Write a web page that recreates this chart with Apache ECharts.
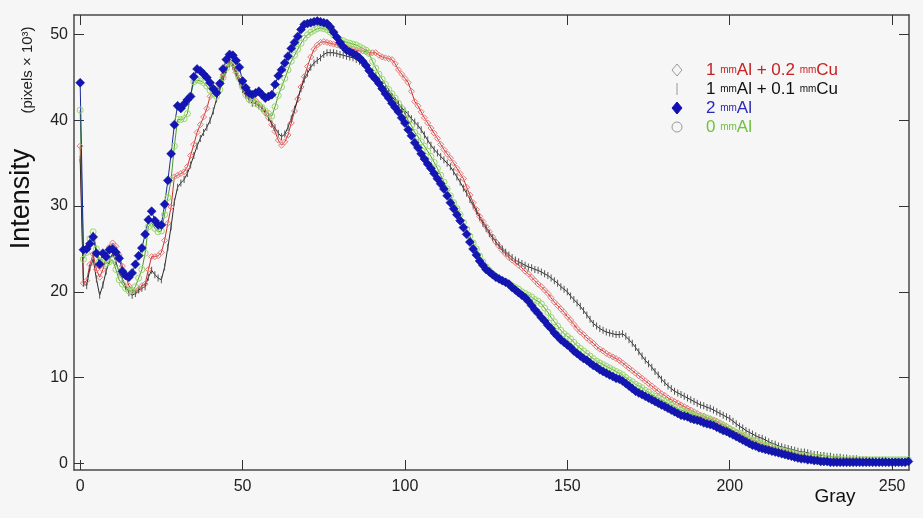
<!DOCTYPE html>
<html>
<head>
<meta charset="utf-8">
<script src="https://cdn.jsdelivr.net/npm/echarts@6/dist/echarts.min.js"></script>
<style>
  html, body { margin: 0; padding: 0; background: #f6f6f6; }
  #chart { width: 923px; height: 518px; }
</style>
</head>
<body>
<div id="chart"></div>
<script>
// gray level = array index (0..255), intensity in pixels x 10^3
var al02cu = [
  37.0, 21.0, 21.3, 23.2, 24.4, 22.6, 21.7, 22.6, 23.9, 25.2,
  25.7, 25.3, 24.3, 23.0, 21.8, 20.7, 20.2, 20.0, 20.3, 20.7,
  20.9, 22.6, 24.1, 24.1, 24.2, 24.6, 26.0, 28.0, 29.9, 33.4,
  33.6, 33.8, 34.0, 34.6, 35.9, 37.2, 38.6, 39.5, 40.4, 41.4,
  42.8, 43.4, 43.7, 44.2, 45.3, 46.3, 46.9, 46.6, 45.6, 44.9,
  44.0, 43.2, 42.8, 42.6, 42.3, 41.9, 41.4, 40.9, 40.3, 39.5,
  38.7, 37.7, 37.1, 37.5, 38.3, 39.7, 41.1, 42.5, 43.9, 45.1,
  46.3, 47.4, 48.3, 48.8, 49.1, 49.2, 49.1, 49.0, 48.9, 48.8,
  48.7, 48.6, 48.5, 48.4, 48.3, 48.2, 48.1, 48.1, 48.0, 47.9,
  47.9, 47.9, 47.6, 47.4, 47.3, 47.2, 47.1, 46.6, 45.9, 45.4,
  44.9, 44.4, 43.4, 42.2, 41.7, 41.0, 40.3, 39.7, 39.1, 38.5,
  37.9, 37.2, 36.6, 36.1, 35.6, 35.0, 34.4, 33.8, 33.2, 32.2,
  31.3, 30.4, 29.6, 28.8, 28.2, 27.6, 27.0, 26.4, 25.8, 25.3,
  24.8, 24.4, 24.0, 23.7, 23.4, 23.1, 22.8, 22.4, 22.1, 21.7,
  21.3, 20.9, 20.6, 20.2, 19.8, 19.3, 18.8, 18.4, 18.0, 17.6,
  17.1, 16.7, 16.2, 15.7, 15.3, 15.0, 14.6, 14.3, 14.0, 13.6,
  13.3, 13.1, 12.8, 12.6, 12.4, 12.2, 12.0, 11.7, 11.4, 11.1,
  10.8, 10.5, 10.2, 9.9, 9.6, 9.3, 9.0, 8.7, 8.4, 8.1,
  7.9, 7.6, 7.4, 7.2, 7.0, 6.8, 6.6, 6.4, 6.2, 6.0,
  5.8, 5.6, 5.5, 5.3, 5.2, 5.0, 4.9, 4.7, 4.5, 4.3,
  4.0, 3.8, 3.6, 3.4, 3.2, 3.0, 2.8, 2.6, 2.4, 2.3,
  2.1, 2.0, 1.8, 1.7, 1.6, 1.5, 1.4, 1.3, 1.2, 1.1,
  1.0, 0.9, 0.8, 0.8, 0.7, 0.6, 0.6, 0.5, 0.5, 0.4,
  0.4, 0.3, 0.3, 0.3, 0.3, 0.3, 0.3, 0.3, 0.3, 0.3,
  0.3, 0.3, 0.3, 0.2, 0.2, 0.2, 0.2, 0.2, 0.2, 0.2,
  0.2, 0.2, 0.2, 0.2, 0.2, 0.2
];
var al01cu = [
  35.5, 21.0, 20.7, 22.8, 23.8, 21.5, 19.6, 20.8, 22.4, 23.6,
  24.5, 23.5, 22.3, 21.5, 20.6, 19.9, 19.6, 19.8, 20.2, 20.4,
  20.6, 21.7, 22.5, 22.0, 21.6, 21.4, 22.9, 25.2, 27.6, 30.5,
  32.2, 32.7, 33.1, 33.8, 34.8, 35.9, 37.0, 37.9, 38.6, 39.2,
  40.0, 41.1, 42.5, 43.6, 44.7, 45.9, 46.6, 46.3, 45.4, 44.5,
  43.6, 42.9, 42.4, 42.0, 42.0, 41.7, 41.4, 40.9, 40.3, 39.6,
  39.1, 38.5, 38.1, 38.4, 39.2, 40.2, 41.3, 42.5, 43.7, 44.8,
  45.5, 46.2, 46.7, 47.0, 47.3, 47.7, 47.9, 47.9, 47.9, 47.8,
  47.7, 47.6, 47.5, 47.4, 47.3, 47.1, 46.9, 46.7, 46.5, 46.1,
  45.7, 45.2, 44.7, 44.2, 43.7, 43.3, 42.8, 42.3, 41.9, 41.5,
  41.1, 40.7, 40.2, 39.8, 39.4, 38.9, 38.3, 37.7, 37.1, 36.6,
  36.2, 35.8, 35.4, 35.0, 34.6, 34.0, 33.4, 32.8, 32.1, 31.5,
  30.8, 30.1, 29.4, 28.7, 28.0, 27.4, 26.8, 26.3, 25.8, 25.4,
  25.0, 24.6, 24.3, 24.0, 23.7, 23.5, 23.3, 23.1, 22.9, 22.8,
  22.6, 22.5, 22.3, 22.1, 21.9, 21.6, 21.3, 21.0, 20.6, 20.3,
  20.0, 19.5, 19.1, 18.7, 18.3, 17.8, 17.3, 16.8, 16.3, 16.0,
  15.7, 15.5, 15.3, 15.2, 15.1, 15.0, 15.0, 15.1, 14.8, 14.4,
  14.0, 13.5, 13.0, 12.5, 12.0, 11.6, 11.2, 10.7, 10.3, 9.8,
  9.4, 9.0, 8.7, 8.4, 8.2, 8.0, 7.8, 7.6, 7.4, 7.2,
  7.0, 6.8, 6.7, 6.5, 6.4, 6.2, 6.0, 5.8, 5.6, 5.4,
  5.2, 4.9, 4.6, 4.3, 4.1, 3.8, 3.6, 3.4, 3.2, 3.0,
  2.9, 2.7, 2.5, 2.3, 2.2, 2.0, 1.9, 1.8, 1.7, 1.6,
  1.5, 1.4, 1.3, 1.3, 1.2, 1.1, 1.0, 1.0, 0.9, 0.9,
  0.8, 0.8, 0.7, 0.7, 0.7, 0.6, 0.6, 0.5, 0.5, 0.5,
  0.4, 0.4, 0.4, 0.3, 0.3, 0.3, 0.3, 0.3, 0.3, 0.2,
  0.2, 0.2, 0.2, 0.2, 0.2, 0.2
];
var al2 = [
  44.4, 24.9, 25.0, 25.6, 26.4, 24.5, 23.2, 24.5, 24.1, 24.9,
  25.0, 24.6, 23.9, 22.4, 21.9, 21.7, 22.2, 23.2, 24.2, 25.1,
  26.7, 28.4, 29.4, 28.3, 27.8, 27.8, 30.2, 33.0, 36.1, 39.5,
  41.7, 41.4, 41.9, 42.4, 42.8, 45.1, 46.0, 45.8, 45.4, 45.0,
  44.4, 43.7, 43.2, 44.3, 46.0, 47.1, 47.7, 47.6, 47.0, 46.2,
  44.6, 43.8, 43.2, 43.0, 43.2, 43.4, 43.0, 42.6, 42.8, 43.0,
  44.2, 45.2, 45.9, 46.7, 47.5, 48.4, 49.1, 49.8, 50.6, 51.2,
  51.3, 51.4, 51.5, 51.6, 51.5, 51.4, 51.3, 50.9, 50.3, 49.7,
  49.1, 48.6, 48.2, 48.0, 47.8, 47.6, 47.3, 46.9, 46.4, 45.8,
  45.2, 44.8, 44.3, 43.7, 43.1, 42.6, 42.0, 41.5, 41.0, 40.3,
  39.7, 38.9, 38.2, 37.4, 36.8, 36.1, 35.5, 34.9, 34.4, 33.8,
  33.2, 32.6, 32.0, 31.2, 30.4, 29.7, 29.0, 28.3, 27.5, 26.7,
  25.8, 25.0, 24.3, 23.6, 23.1, 22.6, 22.3, 22.0, 21.7, 21.5,
  21.3, 21.1, 20.9, 20.5, 20.2, 19.9, 19.6, 19.3, 18.9, 18.4,
  17.9, 17.5, 17.0, 16.6, 16.1, 15.7, 15.2, 14.8, 14.4, 14.1,
  13.8, 13.5, 13.1, 12.8, 12.5, 12.2, 12.0, 11.7, 11.4, 11.2,
  10.9, 10.7, 10.5, 10.3, 10.1, 9.9, 9.8, 9.6, 9.3, 9.0,
  8.7, 8.4, 8.2, 8.0, 7.8, 7.6, 7.4, 7.2, 7.0, 6.8,
  6.6, 6.4, 6.2, 6.0, 5.8, 5.6, 5.5, 5.4, 5.2, 5.1,
  5.0, 4.9, 4.7, 4.6, 4.5, 4.4, 4.2, 4.0, 3.8, 3.7,
  3.5, 3.3, 3.1, 2.9, 2.7, 2.5, 2.3, 2.1, 2.0, 1.8,
  1.7, 1.6, 1.5, 1.4, 1.3, 1.2, 1.1, 1.0, 0.9, 0.8,
  0.7, 0.6, 0.5, 0.5, 0.4, 0.4, 0.3, 0.3, 0.2, 0.2,
  0.2, 0.1, 0.1, 0.1, 0.1, 0.1, 0.1, 0.1, 0.1, 0.1,
  0.1, 0.1, 0.1, 0.1, 0.1, 0.1, 0.1, 0.1, 0.1, 0.1,
  0.1, 0.1, 0.1, 0.1, 0.1, 0.2
];
var al0 = [
  41.2, 23.8, 24.6, 26.2, 27.0, 25.0, 23.6, 23.4, 23.3, 23.5,
  23.7, 22.6, 21.4, 20.9, 20.4, 20.1, 20.1, 20.6, 21.6, 22.6,
  24.5, 27.6, 28.0, 27.4, 27.0, 27.1, 29.0, 31.0, 33.1, 37.0,
  40.1, 40.1, 40.2, 40.8, 42.9, 44.5, 44.7, 44.6, 44.4, 44.0,
  43.5, 43.1, 42.8, 43.6, 45.0, 46.1, 46.8, 46.6, 45.9, 44.9,
  43.9, 43.0, 42.5, 42.3, 42.0, 41.8, 41.5, 41.1, 40.8, 40.5,
  41.6, 42.9, 43.9, 44.9, 45.9, 46.9, 47.6, 48.3, 49.0, 49.6,
  50.0, 50.3, 50.5, 50.7, 50.8, 50.7, 50.6, 50.3, 50.0, 49.7,
  49.4, 49.3, 49.1, 49.0, 48.9, 48.8, 48.6, 48.4, 48.2, 47.8,
  46.9, 46.1, 45.4, 44.8, 44.2, 43.6, 43.1, 42.6, 42.0, 41.4,
  40.8, 40.0, 39.4, 38.6, 38.1, 37.5, 37.0, 36.4, 35.8, 35.1,
  34.4, 33.6, 32.8, 32.0, 31.2, 30.4, 29.7, 29.0, 28.1, 27.3,
  26.5, 25.7, 25.0, 24.2, 23.5, 22.9, 22.5, 22.1, 21.8, 21.5,
  21.3, 21.1, 20.9, 20.7, 20.5, 20.3, 20.0, 19.8, 19.6, 19.4,
  19.1, 18.9, 18.6, 18.1, 17.6, 17.0, 16.5, 16.0, 15.5, 15.1,
  14.8, 14.5, 14.1, 13.7, 13.4, 13.1, 12.8, 12.5, 12.2, 11.9,
  11.7, 11.5, 11.3, 11.1, 10.9, 10.7, 10.5, 10.3, 10.0, 9.7,
  9.5, 9.2, 9.0, 8.8, 8.5, 8.3, 8.0, 7.8, 7.6, 7.4,
  7.2, 7.0, 6.8, 6.6, 6.4, 6.2, 6.1, 5.9, 5.8, 5.6,
  5.5, 5.4, 5.3, 5.2, 5.1, 5.0, 4.8, 4.6, 4.4, 4.2,
  4.0, 3.8, 3.6, 3.5, 3.3, 3.1, 2.9, 2.7, 2.6, 2.4,
  2.3, 2.1, 2.0, 1.9, 1.7, 1.6, 1.5, 1.4, 1.3, 1.2,
  1.1, 1.0, 0.9, 0.9, 0.8, 0.8, 0.7, 0.7, 0.7, 0.6,
  0.6, 0.5, 0.5, 0.5, 0.4, 0.4, 0.4, 0.4, 0.4, 0.4,
  0.4, 0.4, 0.4, 0.4, 0.4, 0.4, 0.4, 0.4, 0.4, 0.4,
  0.4, 0.4, 0.4, 0.4, 0.4, 0.4
];
var xTicks = [0, 50, 100, 150, 200, 250];
var yTicks = [0, 10, 20, 30, 40, 50];

function pairs(arr) {
    return arr.map(function (v, i) { return [i, v]; });
}

var frame = { show: true, onZero: false, lineStyle: { color: '#4a4a4a', width: 1.5 } };
var fontFam = "'Liberation Sans', Arial, sans-serif";

var chart = echarts.init(document.getElementById('chart'));
chart.setOption({
    backgroundColor: '#f6f6f6',
    animation: false,
    grid: { left: 74, right: 14, top: 15, bottom: 48 },
    xAxis: [
        {
            type: 'value', min: -1.9, max: 255.2, position: 'bottom',
            axisLine: frame,
            axisTick: { inside: true, length: 10, customValues: xTicks, lineStyle: { color: '#333', width: 1 } },
            axisLabel: { customValues: xTicks, color: '#222', fontSize: 16, fontFamily: fontFam, margin: 9 },
            splitLine: { show: false }
        },
        {
            type: 'value', min: -1.9, max: 255.2, position: 'top',
            axisLine: frame,
            axisTick: { inside: true, length: 10, customValues: xTicks, lineStyle: { color: '#333', width: 1 } },
            axisLabel: { show: false },
            splitLine: { show: false }
        }
    ],
    yAxis: [
        {
            type: 'value', min: -0.8, max: 52.3, position: 'left',
            axisLine: frame,
            axisTick: { inside: true, length: 10, customValues: yTicks, lineStyle: { color: '#333', width: 1 } },
            axisLabel: { customValues: yTicks, color: '#222', fontSize: 16, fontFamily: fontFam, margin: 6 },
            splitLine: { show: false }
        },
        {
            type: 'value', min: -0.8, max: 52.3, position: 'right',
            axisLine: frame,
            axisTick: { inside: true, length: 10, customValues: yTicks, lineStyle: { color: '#333', width: 1 } },
            axisLabel: { show: false },
            splitLine: { show: false }
        }
    ],
    series: [
        {
            name: '1 mmAl + 0.2 mmCu', type: 'line', data: pairs(al02cu),
            symbol: 'diamond', symbolSize: 6,
            lineStyle: { color: '#cc3030', width: 1 },
            itemStyle: { color: 'rgba(0,0,0,0)', borderColor: '#e87878', borderWidth: 1 }
        },
        {
            name: '1 mmAl + 0.1 mmCu', type: 'line', data: pairs(al01cu),
            symbol: 'rect', symbolSize: [1, 7],
            lineStyle: { color: '#2a2a2a', width: 1 },
            itemStyle: { color: '#555' }
        },
        {
            name: '0 mmAl', type: 'line', data: pairs(al0),
            symbol: 'circle', symbolSize: 6,
            lineStyle: { color: '#4d9a2a', width: 1 },
            itemStyle: { color: 'rgba(0,0,0,0)', borderColor: '#98d86a', borderWidth: 1 }
        },
        {
            name: '2 mmAl', type: 'line', data: pairs(al2),
            symbol: 'diamond', symbolSize: 9,
            lineStyle: { color: '#1a2a9a', width: 1 },
            itemStyle: { color: '#1414b8', borderColor: '#0c1a80', borderWidth: 0.5 }
        }
    ],
    graphic: [
        {
            type: 'text', x: 22, y: 199, rotation: Math.PI / 2,
            style: { text: 'Intensity', fontSize: 27, fontFamily: fontFam, fill: '#111', align: 'center', verticalAlign: 'middle' }
        },
        {
            type: 'text', x: 28, y: 70, rotation: Math.PI / 2,
            style: { text: '(pixels × 10³)', fontSize: 15, fontFamily: fontFam, fill: '#222', align: 'center', verticalAlign: 'middle' }
        },
        {
            type: 'text', x: 835, y: 497,
            style: { text: 'Gray', fontSize: 19, fontFamily: fontFam, fill: '#111', align: 'center', verticalAlign: 'middle' }
        },
        // legend
        { type: 'polygon', shape: { points: [[677, 64], [682, 70], [677, 76], [672, 70]] }, style: { fill: 'none', stroke: '#999', lineWidth: 1 } },
        { type: 'line', shape: { x1: 677, y1: 83, x2: 677, y2: 95 }, style: { stroke: '#999', lineWidth: 1 } },
        { type: 'polygon', shape: { points: [[677, 102], [682, 108], [677, 114], [672, 108]] }, style: { fill: '#1010b4', stroke: '#1010b4', lineWidth: 1 } },
        { type: 'circle', shape: { cx: 677, cy: 127, r: 5 }, style: { fill: 'none', stroke: '#999', lineWidth: 1 } },
        {
            type: 'text', x: 706, y: 70,
            style: { text: '{n|1 }{s|mm}{n|Al + 0.2 }{s|mm}{n|Cu}', fill: '#c82020', verticalAlign: 'middle',
                rich: { n: { fontSize: 17, fontFamily: fontFam }, s: { fontSize: 10, fontFamily: fontFam } } }
        },
        {
            type: 'text', x: 706, y: 89,
            style: { text: '{n|1 }{s|mm}{n|Al + 0.1 }{s|mm}{n|Cu}', fill: '#111', verticalAlign: 'middle',
                rich: { n: { fontSize: 17, fontFamily: fontFam }, s: { fontSize: 10, fontFamily: fontFam } } }
        },
        {
            type: 'text', x: 706, y: 108,
            style: { text: '{n|2 }{s|mm}{n|Al}', fill: '#2a2ab4', verticalAlign: 'middle',
                rich: { n: { fontSize: 17, fontFamily: fontFam }, s: { fontSize: 10, fontFamily: fontFam } } }
        },
        {
            type: 'text', x: 706, y: 127,
            style: { text: '{n|0 }{s|mm}{n|Al}', fill: '#6cc43c', verticalAlign: 'middle',
                rich: { n: { fontSize: 17, fontFamily: fontFam }, s: { fontSize: 10, fontFamily: fontFam } } }
        }
    ]
});
</script>
</body>
</html>
